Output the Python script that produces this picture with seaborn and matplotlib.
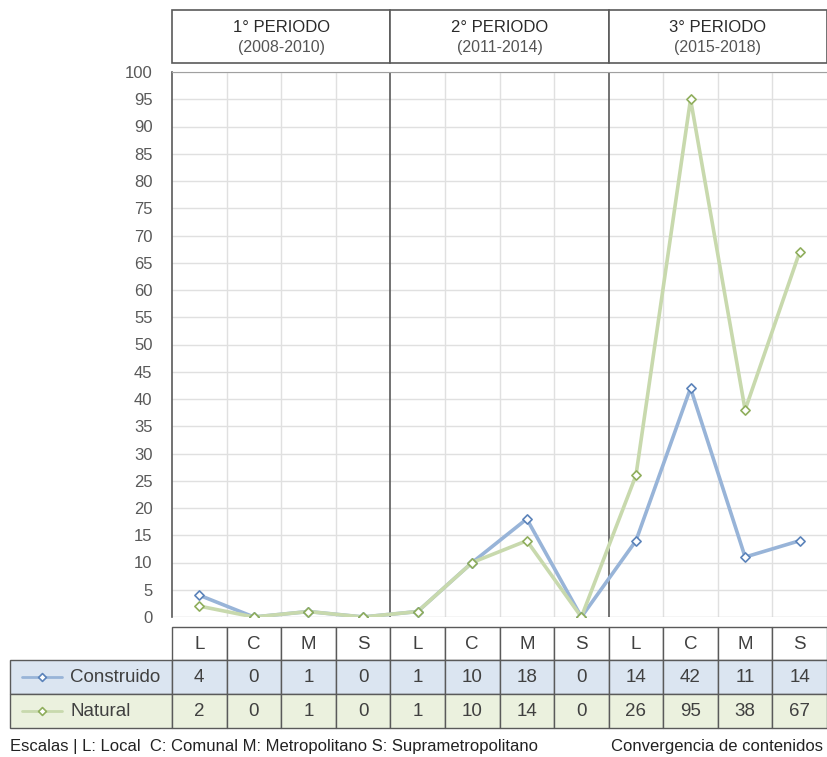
import matplotlib
matplotlib.use('Agg')
import matplotlib.pyplot as plt
import seaborn as sns
import pandas as pd
from matplotlib.patches import Rectangle

escalas = ['L', 'C', 'M', 'S', 'L', 'C', 'M', 'S', 'L', 'C', 'M', 'S']
construido = [4, 0, 1, 0, 1, 10, 18, 0, 14, 42, 11, 14]
natural = [2, 0, 1, 0, 1, 10, 14, 0, 26, 95, 38, 67]
periodos = ['1° PERIODO', '2° PERIODO', '3° PERIODO']
anos = ['(2008-2010)', '(2011-2014)', '(2015-2018)']
series = ['Construido', 'Natural']

cor_linha = {'Construido': '#98b4d8', 'Natural': '#c8d9ad'}
cor_marca = {'Construido': '#5b83ba', 'Natural': '#8fae5c'}
cor_fundo = {'Construido': '#dbe5f1', 'Natural': '#ebf1de'}
borda = '#5a5a5a'
texto = '#404040'

sns.set_style('white')
plt.rcParams['font.family'] = ['Liberation Sans Narrow', 'Liberation Sans', 'DejaVu Sans']

W, H = 827, 757
fig = plt.figure(figsize=(W / 100, H / 100), dpi=100)

# eixo principal em coordenadas de pixel
x0, x1 = 172, 827
y_top, y_bot = 72, 617
ax = fig.add_axes([x0 / W, 1 - y_bot / H, (x1 - x0) / W, (y_bot - y_top) / H])

df = pd.DataFrame({
    'pos': list(range(len(escalas))) * 2,
    'valor': construido + natural,
    'serie': ['Construido'] * len(escalas) + ['Natural'] * len(escalas),
})
sns.lineplot(data=df, x='pos', y='valor', hue='serie', palette=cor_linha,
             linewidth=2.6, legend=False, ax=ax)
for s, vals in zip(series, [construido, natural]):
    ax.scatter(range(len(vals)), vals, marker='D', s=22, facecolor='white',
               edgecolor=cor_marca[s], linewidth=1.2, zorder=5)

n = len(escalas)
ax.set_xlim(-0.5, n - 0.5)
ax.set_ylim(0, 100)
ax.set_yticks(range(0, 101, 5))
ax.set_xticks([])
ax.set_xlabel('')
ax.set_ylabel('')
ax.tick_params(axis='y', labelsize=12, labelcolor='#595959', length=0, pad=14)
for i in range(n - 1):
    if (i + 1) % 4 == 0:
        ax.axvline(i + 0.5, color=borda, lw=1.2, zorder=1)
    else:
        ax.axvline(i + 0.5, color='#e0e0e0', lw=1, zorder=0)
for y in range(5, 101, 5):
    ax.axhline(y, color='#e0e0e0', lw=1, zorder=0)
ax.axhline(0, color='#d0d0d0', lw=1, zorder=0)
ax.spines['left'].set_color(borda)
ax.spines['left'].set_linewidth(1.2)
ax.spines['top'].set_color('#a0a0a0')
ax.spines['right'].set_visible(False)
ax.spines['bottom'].set_visible(False)

# camada de desenho para cabecalho, tabela e rodape
ov = fig.add_axes([0, 0, 1, 1], zorder=-1)
ov.set_xlim(0, W)
ov.set_ylim(H, 0)
ov.axis('off')
ov.patch.set_alpha(0)

cw = (x1 - x0) / n

# cabecalho dos periodos
hy0, hy1 = 10, 63
for k in range(3):
    xa = x0 + k * 4 * cw
    ov.add_patch(Rectangle((xa, hy0), 4 * cw, hy1 - hy0, facecolor='white',
                           edgecolor=borda, lw=1.2))
    ov.text(xa + 2 * cw, 27, periodos[k], ha='center', va='center',
            fontsize=12, color='#2a2a2a')
    ov.text(xa + 2 * cw, 47.5, anos[k], ha='center', va='center',
            fontsize=11.5, color='#555555')

# tabela de dados
ry = [627, 660, 694, 728]
for i in range(n):
    xa = x0 + i * cw
    ov.add_patch(Rectangle((xa, ry[0]), cw, ry[1] - ry[0], facecolor='white',
                           edgecolor=borda, lw=1))
    ov.text(xa + cw / 2, (ry[0] + ry[1]) / 2 + 1, escalas[i], ha='center',
            va='center', fontsize=13.5, color=texto)
for r, (s, vals) in enumerate(zip(series, [construido, natural])):
    ya, yb = ry[r + 1], ry[r + 2]
    ov.add_patch(Rectangle((10, ya), x0 - 10, yb - ya, facecolor=cor_fundo[s],
                           edgecolor=borda, lw=1))
    ov.plot([22, 62], [(ya + yb) / 2] * 2, color=cor_linha[s], lw=2)
    ov.scatter([42], [(ya + yb) / 2], marker='D', s=16, facecolor='white',
               edgecolor=cor_marca[s], linewidth=1.2, zorder=5)
    ov.text(70, (ya + yb) / 2, s, ha='left', va='center', fontsize=13.5,
            color=texto)
    for i in range(n):
        xa = x0 + i * cw
        ov.add_patch(Rectangle((xa, ya), cw, yb - ya, facecolor=cor_fundo[s],
                               edgecolor=borda, lw=1))
        ov.text(xa + cw / 2, (ya + yb) / 2 + 1, str(vals[i]), ha='center',
                va='center', fontsize=13.5, color=texto)

ov.text(10, 746, 'Escalas | L: Local  C: Comunal M: Metropolitano S: Suprametropolitano',
        ha='left', va='center', fontsize=12, color='#222222')
ov.text(823, 746, 'Convergencia de contenidos', ha='right', va='center',
        fontsize=12, color='#222222')

fig.savefig('out.png', dpi=100)
